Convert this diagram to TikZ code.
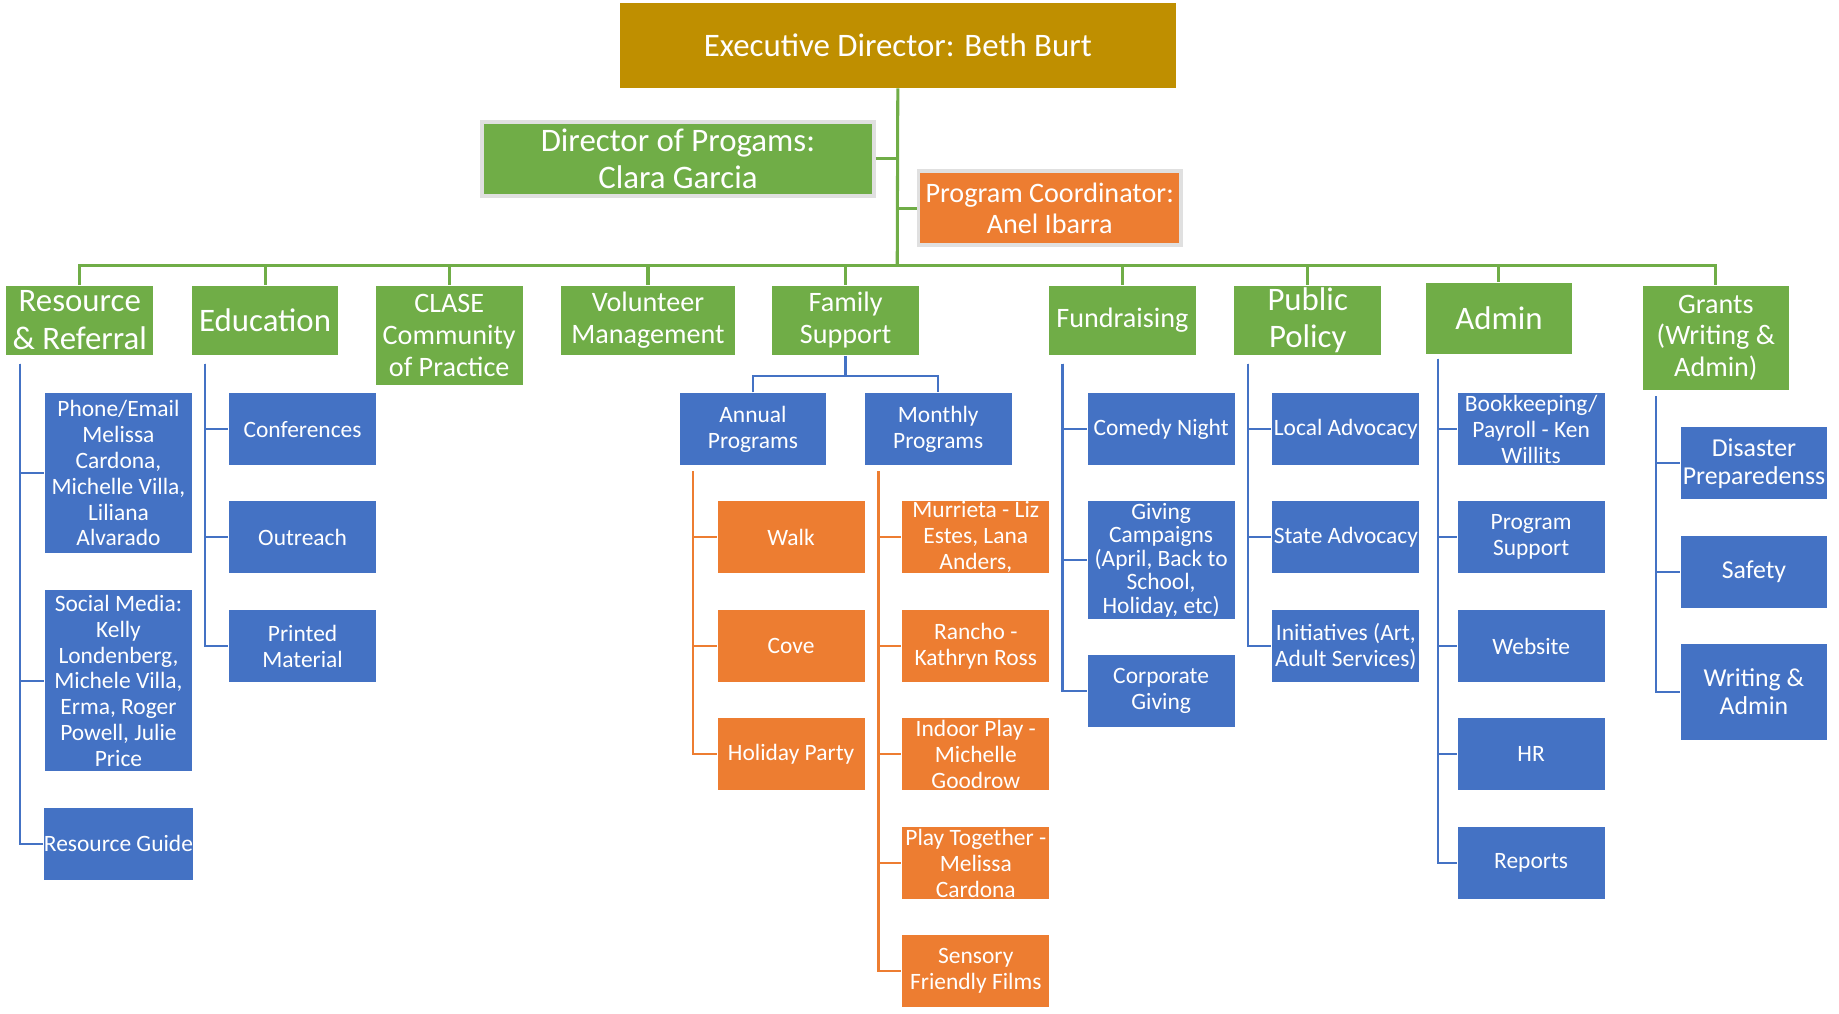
\documentclass[tikz,border=0pt]{standalone}
\usepackage{fontspec}
\setmainfont{Carlito}
\usepackage{xcolor}
\definecolor{grn}{HTML}{70AD47}
\definecolor{blu}{HTML}{4472C4}
\definecolor{orn}{HTML}{ED7D31}
\definecolor{gold}{HTML}{BF8F00}
\usetikzlibrary{positioning}

\begin{document}
\begin{tikzpicture}[
  x=0.5pt, y=-0.5pt,
  every node/.style = {shape=rectangle, align=center, text=white,
    inner sep=0.5pt, draw=white, line width=0.4pt},
  lvl/.style = {fill=grn, minimum width=63pt, minimum height=30pt,
    font=\fontsize{14}{16}\selectfont},
  lvlsm/.style = {lvl, font=\fontsize{12}{13.5}\selectfont},
  bbox/.style = {fill=blu, minimum width=63pt, minimum height=31pt,
    font=\fontsize{10}{11}\selectfont},
  obox/.style = {bbox, fill=orn},
  gline/.style = {draw=grn, line width=1.3pt},
  bline/.style = {draw=blu, line width=1pt},
  oline/.style = {draw=orn, line width=1pt}]
  \useasboundingbox (0,0) rectangle (1568,864);

  % top of the chart
  \node[fill=gold, minimum width=237.5pt, minimum height=36.5pt,
    font=\fontsize{14}{16}\selectfont] (top) at (765.5,38.5) {Executive Director: Beth Burt};
  \node[lvl, minimum width=167pt, minimum height=31.5pt, draw=black!12,
    line width=1.5pt] (dir) at (578,135.5) {Director of Progams:\\Clara Garcia};
  \node[fill=orn, minimum width=112pt, minimum height=31.5pt, draw=black!12,
    line width=1.5pt, font=\fontsize{12}{13}\selectfont] (pc) at (895,177.5) {Program Coordinator:\\Anel Ibarra};
  \coordinate (bus) at (765,226);

  % departments
  \node[lvl] (rr) at (68,273) {Resource\\\& Referral};
  \node[lvl] (edu) at (226,273) {Education};
  \node[lvlsm, minimum height=43pt] (cl) at (383,286) {CLASE\\Community\\of Practice};
  \node[lvlsm, minimum width=74.5pt] (vol) at (552.5,273) {Volunteer\\Management};
  \node[lvlsm] (fam) at (721,273) {Family\\Support};
  \node[lvlsm] (fund) at (957,273) {Fundraising};
  \node[lvl] (pol) at (1115,273) {Public\\Policy};
  \node[lvl, minimum height=30.5pt] (adm) at (1278,271.5) {Admin};
  \node[lvlsm, minimum height=45pt] (gr) at (1463,288) {Grants\\(Writing \&\\Admin)};

  \draw[gline] (top.south) -- (bus);
  \draw[gline] (dir.east) -- (dir.east -| bus);
  \draw[gline] (pc.west) -- (pc.west -| bus);
  \foreach \d in {rr,edu,cl,vol,fam,fund,pol,adm,gr}
    \draw[gline] (bus) -| (\d.north);

  % resource & referral
  \node[bbox, minimum height=68.5pt] (ph) at (101,403.5) {Phone/Email\\Melissa\\Cardona,\\Michelle Villa,\\Liliana\\Alvarado};
  \node[bbox, minimum height=77.5pt] (sm) at (101,580.5) {Social Media:\\Kelly\\Londenberg,\\Michele Villa,\\Erma, Roger\\Powell, Julie\\Price};
  \node[bbox, inner xsep=0pt] (rg) at (101,719.5) {Resource Guide};
  \coordinate (rrt) at (17,310);
  \foreach \c in {ph,sm,rg}
    \draw[bline] (rrt) |- (\c.west);

  % education
  \node[bbox] (conf) at (258,366) {Conferences};
  \node[bbox] (out) at (258,458) {Outreach};
  \node[bbox] (prt) at (258,551) {Printed\\Material};
  \coordinate (edut) at (175,310);
  \foreach \c in {conf,out,prt}
    \draw[bline] (edut) |- (\c.west);

  % family support
  \node[bbox] (ann) at (642,366) {Annual\\Programs};
  \node[bbox] (mon) at (800,366) {Monthly\\Programs};
  \draw[bline] (fam.south) -- ++(0,17) coordinate (famj);
  \draw[bline] (ann.north) |- (famj) -| (mon.north);

  \node[obox] (walk) at (674.5,458) {Walk};
  \node[obox] (cove) at (674.5,551) {Cove};
  \node[obox] (hol) at (674.5,643) {Holiday Party};
  \coordinate (annt) at (591,402);
  \foreach \c in {walk,cove,hol}
    \draw[oline] (annt) |- (\c.west);

  \node[obox] (mur) at (832,458) {Murrieta - Liz\\Estes, Lana\\Anders,};
  \node[obox] (ran) at (832,551) {Rancho -\\Kathryn Ross};
  \node[obox] (ind) at (832,643) {Indoor Play -\\Michelle\\Goodrow};
  \node[obox] (ptg) at (832,736) {Play Together -\\Melissa\\Cardona};
  \node[obox] (sen) at (832,828) {Sensory\\Friendly Films};
  \coordinate (mont) at (749,402);
  \foreach \c in {mur,ran,ind,ptg,sen}
    \draw[oline] (mont) |- (\c.west);

  % fundraising
  \node[bbox] (com) at (990,366) {Comedy Night};
  \node[bbox, minimum height=50.5pt, font=\fontsize{10}{10}\selectfont] (giv) at (990,477.5) {Giving\\Campaigns\\(April, Back to\\School,\\Holiday, etc)};
  \node[bbox] (cor) at (990,589) {Corporate\\Giving};
  \coordinate (fundt) at (906,310);
  \foreach \c in {com,giv,cor}
    \draw[bline] (fundt) |- (\c.west);

  % public policy
  \node[bbox] (loc) at (1147.5,366) {Local Advocacy};
  \node[bbox] (sta) at (1147.5,458) {State Advocacy};
  \node[bbox] (ini) at (1147.5,551) {Initiatives (Art,\\Adult Services)};
  \coordinate (polt) at (1064,310);
  \foreach \c in {loc,sta,ini}
    \draw[bline] (polt) |- (\c.west);

  % admin
  \node[bbox] (book) at (1305.5,366) {Bookkeeping/\\Payroll - Ken\\Willits};
  \node[bbox] (psup) at (1305.5,458) {Program\\Support};
  \node[bbox] (web) at (1305.5,551) {Website};
  \node[bbox] (hr) at (1305.5,643) {HR};
  \node[bbox] (rep) at (1305.5,736) {Reports};
  \coordinate (admt) at (1226,306);
  \foreach \c in {book,psup,web,hr,rep}
    \draw[bline] (admt) |- (\c.west);

  % grants
  \node[bbox, font=\fontsize{11}{12}\selectfont] (dis) at (1495.5,395) {Disaster\\Preparedenss};
  \node[bbox, font=\fontsize{11}{12}\selectfont] (saf) at (1495.5,487.5) {Safety};
  \node[bbox, minimum height=41pt, font=\fontsize{11}{12}\selectfont] (wri) at (1495.5,590) {Writing \&\\Admin};
  \coordinate (grt) at (1412,338);
  \foreach \c in {dis,saf,wri}
    \draw[bline] (grt) |- (\c.west);
\end{tikzpicture}
\end{document}
